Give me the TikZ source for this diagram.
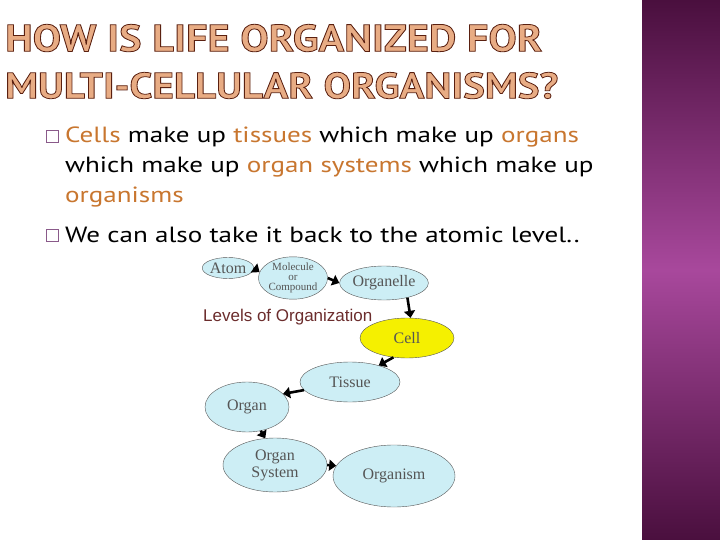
\documentclass[tikz,border=0pt]{standalone}
\usepackage{fontspec}
\usepackage{graphicx}
\usetikzlibrary{shapes.geometric,arrows.meta}
\newfontfamily\bodyfont[FakeStretch=1.23]{PT Sans}
\newfontfamily\ttlfont{PT Sans}
\newfontfamily\diagserif{Liberation Serif}
\newfontfamily\diagsans{Liberation Sans}
\definecolor{barend}{HTML}{4A0F3E}
\definecolor{barmid}{HTML}{A8489C}
\definecolor{ttlfill}{HTML}{E8AC84}
\definecolor{hilite}{HTML}{C8762F}
\definecolor{bulletbox}{HTML}{8A5A8A}
\definecolor{lvlfill}{HTML}{CDEEF5}
\definecolor{lvledge}{HTML}{555555}
\definecolor{lvltext}{HTML}{555555}
\definecolor{cellfill}{HTML}{F5F000}
\definecolor{lvltitle}{HTML}{6B2C2C}
% outlined title letters (fill and stroke)
\newcommand{\outlined}[1]{{\fontsize{38}{38}\bfseries\color{ttlfill}%
  \special{pdf:literal direct 2 Tr 0.8 w 0.353 0.125 0.063 RG}#1%
  \special{pdf:literal direct 0 Tr}}}
\tikzset{
  body/.style={anchor=base west, inner sep=0pt, font=\bodyfont\fontsize{22}{22}\selectfont},
  bullet/.style={draw=bulletbox, thin, minimum size=12pt, inner sep=0pt},
  lvl/.style={ellipse, draw=lvledge, thin, fill=lvlfill, inner sep=0pt, text=lvltext,
    align=center, font=\diagserif\fontsize{16}{17}\selectfont},
  lvlarrow/.style={line width=2.6pt, -{Triangle[length=7pt,width=11pt]}},
}
\begin{document}
\begin{tikzpicture}[x=1pt,y=-1pt]
	\useasboundingbox (0,0) rectangle (720,540);
	\shade[top color=barend,bottom color=barend,middle color=barmid] (642,0) rectangle (720,540);

	\node[anchor=south west, inner sep=0pt] (ttla) at (5,52)
		{\resizebox{537pt}{27pt}{\ttlfont\outlined{HOW IS LIFE ORGANIZED FOR}}};
	\node[anchor=south west, inner sep=0pt] (ttlb) at (5,99)
		{\resizebox{553pt}{26pt}{\ttlfont\outlined{MULTI-CELLULAR ORGANISMS?}}};

	\node[bullet] (ba) at (52,136) {};
	\node[body] (la) at (65,143)
		{\textcolor{hilite}{Cells} make up \textcolor{hilite}{tissues} which make up \textcolor{hilite}{organs}};
	\node[body] (lb) at (65,173)
		{which make up \textcolor{hilite}{organ systems} which make up};
	\node[body] (lc) at (65,203) {\textcolor{hilite}{organisms}};
	\node[bullet] (bb) at (52,235) {};
	\node[body] (ld) at (65,242) {We can also take it back to the atomic level..};

	\node[anchor=base west, inner sep=0pt, text=lvltitle, font=\diagsans\fontsize{17}{17}\selectfont]
		(lvltitle) at (203,321) {Levels of Organization};

	\node[lvl, minimum width=44pt, minimum height=21pt] (atom) at (228,268) {Atom};
	\node[lvl, minimum width=64pt, minimum height=34pt, font=\diagserif\fontsize{11}{10}\selectfont]
		(molecule) at (293,278) {Molecule\\or\\Compound};
	\node[lvl, minimum width=84pt, minimum height=34pt] (organelle) at (384,283) {Organelle};
	\node[lvl, fill=cellfill, minimum width=94pt, minimum height=40pt] (cell) at (407,338) {Cell};
	\node[lvl, minimum width=100pt, minimum height=40pt] (tissue) at (350,382) {Tissue};
	\node[lvl, minimum width=84pt, minimum height=50pt] (organ) at (247,407) {Organ};
	\node[lvl, minimum width=104pt, minimum height=54pt] (system) at (275,465) {Organ\\System};
	\node[lvl, minimum width=122pt, minimum height=62pt] (organism) at (394,476) {Organism};

	\draw[lvlarrow] (atom.east) -- (molecule.170);
	\draw[lvlarrow] (molecule.east) -- (organelle.west);
	\draw[lvlarrow] (organelle.-32) -- (cell.80);
	\draw[lvlarrow] (cell.235) -- (tissue.30);
	\draw[lvlarrow] (tissue.190) -- (organ.20);
	\draw[lvlarrow] (organ.-60) -- (system.110);
	\draw[lvlarrow] (system.east) -- (organism.170);
\end{tikzpicture}
\end{document}
